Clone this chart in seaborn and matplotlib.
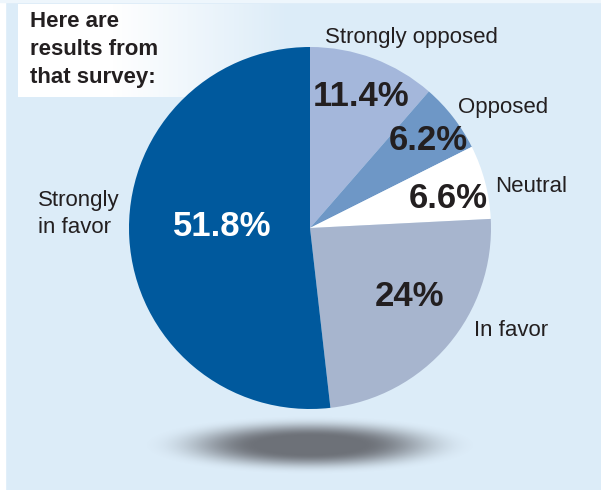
import numpy as np
import matplotlib
matplotlib.use("Agg")
import matplotlib.pyplot as plt
import seaborn as sns

# survey results, clockwise from 12 o'clock
categories = ["Strongly opposed", "Opposed", "Neutral", "In favor", "Strongly\nin favor"]
shares = [11.4, 6.2, 6.6, 24.0, 51.8]
pct_labels = ["11.4%", "6.2%", "6.6%", "24%", "51.8%"]
slice_colors = ["#A4B7DB", "#6E97C6", "#FFFFFF", "#A7B5CE", "#00599D"]

W, H = 601, 490
BG = "#DCECF8"
INK = "#231F20"

# layout in image pixels (x, y from top)
center = (310, 228)
radius = 181
cat_xy = [(411, 38), (503, 107), (531, 186), (511, 330), (38, 214)]
pct_xy = [(361, 97), (428, 141), (448, 199), (409, 296), (222, 226)]

sns.set_style("white")
plt.rcParams['font.family'] = ['Liberation Sans', 'DejaVu Sans']

fig = plt.figure(figsize=(W / 100, H / 100), dpi=100)
fig.patch.set_facecolor(BG)
ax = fig.add_axes([0, 0, 1, 1])
ax.set_facecolor(BG)


def fy(y):
    return H - y


# white strips at left and top edge
ax.axvspan(0, 5, color="white", zorder=0)
ax.axhspan(fy(2), H, color="#EEF6FC", zorder=0)

# heading box: white fading into the background
gx = np.linspace(0, 1, 256)
grad = np.ones((2, 256, 4))
grad[..., 3] = np.clip((1 - gx) / 0.65, 0, 1)
ax.imshow(grad, extent=(18, 290, fy(97), fy(4)), aspect="auto", zorder=1,
          interpolation="bilinear")
ax.text(30, fy(11), "Here are\nresults from\nthat survey:", fontsize=16,
        fontweight="bold", color=INK, va="top", ha="left", linespacing=1.45,
        zorder=5)

# blurred shadow under the pie
sx = np.linspace(-1.05, 1.05, 400)
sy = np.linspace(-1.05, 1.05, 120)
XX, YY = np.meshgrid(sx, sy)
d = np.sqrt(XX ** 2 + YY ** 2)
t = np.clip((d - 0.3) / 0.7, 0, 1)
shadow = np.zeros((len(sy), len(sx), 4))
shadow[..., 0] = 0.41
shadow[..., 1] = 0.42
shadow[..., 2] = 0.45
shadow[..., 3] = 0.96 * (1 - t * t * (3 - 2 * t)) ** 1.3
ax.imshow(shadow, extent=(310 - 172 * 1.05, 310 + 172 * 1.05,
                          fy(446) - 30 * 1.05, fy(446) + 30 * 1.05),
          aspect="auto", zorder=1, interpolation="bilinear")

ax.pie(shares, colors=slice_colors, startangle=90, counterclock=False,
       radius=radius, center=(center[0], fy(center[1])),
       wedgeprops=dict(linewidth=0, zorder=3))

for lab, (x, y) in zip(categories, cat_xy):
    if "\n" in lab:
        ax.text(x, fy(y), lab, fontsize=16, color=INK, ha="left", va="center",
                linespacing=1.35, zorder=5)
    else:
        ax.text(x, fy(y), lab, fontsize=16, color=INK, ha="center", va="center",
                zorder=5)

for i, (lab, (x, y)) in enumerate(zip(pct_labels, pct_xy)):
    col = "white" if i == len(pct_labels) - 1 else INK
    ax.text(x, fy(y), lab, fontsize=25, fontweight="bold", color=col,
            ha="center", va="center", zorder=5)

ax.set_xlim(0, W)
ax.set_ylim(0, H)
ax.set_aspect("auto")
ax.axis("off")

fig.savefig("out.png", dpi=100, facecolor=BG)
